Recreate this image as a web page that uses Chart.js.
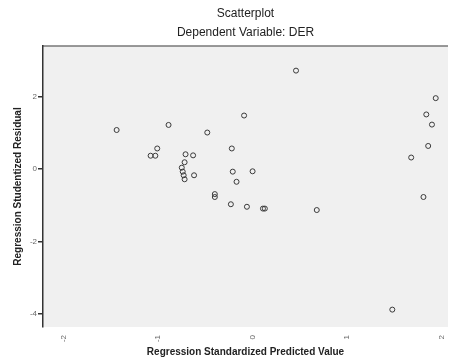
<!DOCTYPE html>
<html>
<head>
<meta charset="utf-8">
<script src="https://cdn.jsdelivr.net/npm/chart.js@4/dist/chart.umd.min.js"></script>
<style>
html,body{margin:0;padding:0;background:#fff;}
#c{display:block;}
</style>
</head>
<body>
<canvas id="c" width="453" height="362"></canvas>
<script>
const chartTitle = "Scatterplot";
const chartSubtitle = "Dependent Variable: DER";
const xAxisTitle = "Regression Standardized Predicted Value";
const yAxisTitle = "Regression Studentized Residual";
const xTicks = [-2, -1, 0, 1, 2];
const yTicks = [2, 0, -2, -4];
const predicted = [-1.44, -0.89, -1.01, -1.08, -1.03, -0.48, -0.09, -0.71, -0.63, -0.72, -0.75, -0.74, -0.73, -0.72, -0.62, -0.22, -0.21, 0.00, -0.17, -0.40, -0.40, -0.23, -0.06, 0.46, 1.94, 1.84, 1.90, 1.86, 1.68, 0.11, 0.13, 0.68, 1.81, 1.48];
const residual = [1.08, 1.22, 0.57, 0.37, 0.37, 1.01, 1.48, 0.41, 0.38, 0.19, 0.04, -0.07, -0.17, -0.28, -0.17, 0.57, -0.07, -0.06, -0.35, -0.69, -0.77, -0.97, -1.04, 2.72, 1.96, 1.51, 1.23, 0.64, 0.32, -1.09, -1.09, -1.13, -0.77, -3.88];

const points = predicted.map((x, i) => ({x: x, y: residual[i]}));

const framePlugin = {
  id: 'frame',
  beforeDraw(chart) {
    const {ctx, chartArea: a} = chart;
    ctx.save();
    ctx.fillStyle = '#f0f0f0';
    ctx.fillRect(a.left, a.top, a.right - a.left, a.bottom - a.top);
    ctx.strokeStyle = '#777';
    ctx.lineWidth = 1.5;
    ctx.beginPath();
    ctx.moveTo(a.left, a.top);
    ctx.lineTo(a.right, a.top);
    ctx.stroke();
    ctx.restore();
  },
  afterDraw(chart) {
    const {ctx, chartArea: a} = chart;
    const cx = (a.left + a.right) / 2;
    ctx.save();
    ctx.fillStyle = '#222';
    ctx.textAlign = 'center';
    ctx.textBaseline = 'middle';
    ctx.font = '12px "Liberation Sans", Arial, sans-serif';
    ctx.fillText(chartTitle, cx, 14);
    ctx.fillText(chartSubtitle, cx, 33);
    ctx.restore();
  }
};

new Chart(document.getElementById('c'), {
  type: 'scatter',
  data: {
    datasets: [{
      data: points,
      pointStyle: 'circle',
      pointRadius: 2.5,
      pointHoverRadius: 2.5,
      pointBorderWidth: 1,
      pointBorderColor: '#3a3a3a',
      pointBackgroundColor: 'rgba(0,0,0,0)'
    }]
  },
  options: {
    responsive: false,
    animation: false,
    layout: {padding: {top: 46, right: 5, left: 0, bottom: 0}},
    plugins: {legend: {display: false}, title: {display: false}, tooltip: {enabled: false}},
    scales: {
      x: {
        type: 'linear',
        min: -2.22,
        max: 2.07,
        afterBuildTicks(scale) { scale.ticks = xTicks.map(v => ({value: v})); },
        afterFit(scale) { scale.height = 35; },
        grid: {display: false},
        border: {display: false},
        ticks: {
          minRotation: 90, maxRotation: 90,
          padding: 0,
          color: '#666',
          font: {size: 8, family: '"Liberation Sans", Arial, sans-serif'}
        },
        title: {
          display: true,
          text: xAxisTitle,
          color: '#222',
          padding: {top: 0, bottom: 4},
          font: {size: 10, weight: 'bold', family: '"Liberation Sans", Arial, sans-serif'}
        }
      },
      y: {
        type: 'linear',
        min: -4.36,
        max: 3.40,
        afterBuildTicks(scale) { scale.ticks = yTicks.map(v => ({value: v})); },
        afterFit(scale) { scale.width = 43; },
        grid: {display: true, drawOnChartArea: false, drawTicks: true, tickLength: 5, color: '#333', lineWidth: 1.5},
        border: {display: true, color: '#333', width: 1.5},
        ticks: {
          padding: 1,
          color: '#666',
          font: {size: 8, family: '"Liberation Sans", Arial, sans-serif'}
        },
        title: {
          display: true,
          text: yAxisTitle,
          color: '#222',
          padding: {top: 12, bottom: 0},
          font: {size: 10, weight: 'bold', family: '"Liberation Sans", Arial, sans-serif'}
        }
      }
    }
  },
  plugins: [framePlugin]
});
</script>
</body>
</html>
